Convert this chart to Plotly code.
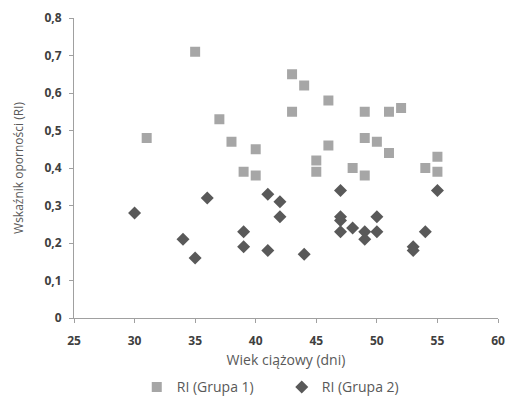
import plotly.graph_objects as go

# Group 1 (squares)
g1_x = [31, 35, 37, 38, 39, 40, 40, 43, 43, 44, 45, 45, 46, 46, 48, 49, 49, 49, 50, 51, 51, 52, 54, 55, 55]
g1_y = [0.48, 0.71, 0.53, 0.47, 0.39, 0.45, 0.38, 0.65, 0.55, 0.62, 0.42, 0.39, 0.58, 0.46, 0.40,
        0.55, 0.48, 0.38, 0.47, 0.55, 0.44, 0.56, 0.40, 0.43, 0.39]

# Group 2 (diamonds)
g2_x = [30, 34, 35, 36, 39, 39, 41, 41, 42, 42, 44, 47, 47, 47, 47, 48, 49, 49, 50, 50, 53, 53, 54, 55]
g2_y = [0.28, 0.21, 0.16, 0.32, 0.23, 0.19, 0.33, 0.18, 0.31, 0.27, 0.17, 0.34, 0.27, 0.26, 0.23,
        0.24, 0.23, 0.21, 0.27, 0.23, 0.19, 0.18, 0.23, 0.34]

x_ticks = [25, 30, 35, 40, 45, 50, 55, 60]
y_ticks = [0, 0.1, 0.2, 0.3, 0.4, 0.5, 0.6, 0.7, 0.8]

fig = go.Figure()
fig.add_trace(go.Scatter(x=g1_x, y=g1_y, mode="markers", name="RI (Grupa 1)",
                         marker=dict(symbol="square", size=10, color="#a6a6a6")))
fig.add_trace(go.Scatter(x=g2_x, y=g2_y, mode="markers", name="RI (Grupa 2)",
                         marker=dict(symbol="diamond", size=10, color="#595959")))

axis_common = dict(showgrid=False, zeroline=False, showline=True, linecolor="#a0a0a0", linewidth=1,
                   ticks="outside", ticklen=4, tickcolor="#a0a0a0", automargin=False,
                   ticklabeloverflow="allow",
                   tickfont=dict(family="Open Sans", size=12, color="#404040", weight="bold"))

fig.update_layout(
    width=507, height=396,
    margin=dict(l=74, r=9, t=18, b=78, autoexpand=False),
    paper_bgcolor="white", plot_bgcolor="white",
    separators=", ",
    font=dict(family="Open Sans", color="#595959"),
    xaxis=dict(range=[25, 60], tickvals=x_ticks, ticklabelstandoff=8,
               title=dict(text="Wiek ciążowy (dni)", font=dict(size=14, color="#595959"), standoff=6),
               **axis_common),
    yaxis=dict(range=[0, 0.8], tickvals=y_ticks, ticklabelstandoff=5,
               title=dict(text="Wskaźnik oporności (RI)", font=dict(size=12, color="#595959"), standoff=18),
               **axis_common),
    legend=dict(orientation="h", x=0.49, xanchor="center", yref="container", y=0.022, yanchor="middle",
                font=dict(size=14, color="#595959"), itemwidth=30, entrywidth=100),
    showlegend=True,
)

fig.write_html("out.html", config={"displayModeBar": False},
               post_script="document.body.style.margin='0';document.body.style.padding='0';")
